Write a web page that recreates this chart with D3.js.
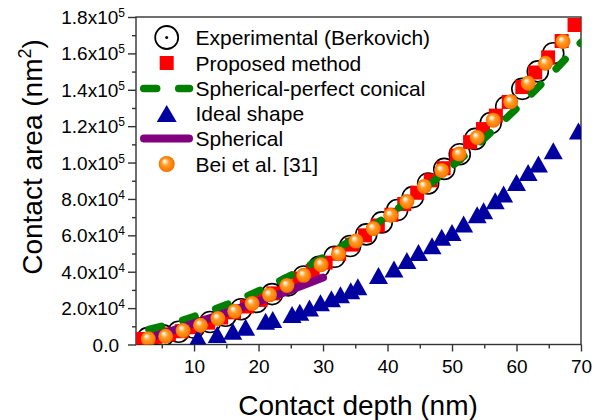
<!DOCTYPE html>
<html>
<head>
<meta charset="utf-8">
<script src="https://cdn.jsdelivr.net/npm/d3@7"></script>
<style>
  body { margin: 0; background: #fff; }
  svg text { font-family: "Liberation Sans", Arial, sans-serif; fill: #000; }
</style>
</head>
<body>
<svg id="chart" width="603" height="420"></svg>
<script>
// Experimental (Berkovich) - open circles
var expX = [2.8, 5.2, 7.6, 10.0, 12.5, 14.9, 17.3, 19.7, 22.1, 24.6, 27.0, 29.4, 31.8, 34.2,
  36.7, 39.1, 41.5, 43.9, 46.3, 48.8, 51.2, 53.6, 56.0, 58.4, 60.9, 63.3, 65.7];
var expY = [3500, 5000, 7000, 9300, 12400, 15800, 19400, 23400, 27700, 32500, 37400, 42700, 48200, 54100,
  60500, 67100, 73900, 81000, 88500, 96500, 104600, 113000, 121700, 130700, 140500, 150100, 160100];

// Proposed method - red squares
var propX = [2.0, 4.0, 6.1, 8.1, 10.1, 12.2, 14.2, 16.2, 18.2, 20.3, 22.3, 24.3, 26.4, 28.4, 30.4, 32.5, 34.5,
  36.5, 38.5, 40.6, 42.6, 44.6, 46.7, 48.7, 50.7, 52.8, 54.8, 56.8, 58.8, 60.9, 62.9, 64.9, 67.0, 69.0];
var propY = [3000, 4200, 5600, 7300, 9500, 12000, 14800, 17700, 20900, 24500, 28100, 31900, 36200, 40500, 45000, 49900, 54900,
  60000, 65400, 71300, 77200, 83400, 90200, 96900, 103800, 111200, 118400, 125800, 133300, 141500, 149500, 157800, 166800, 175600];

// Spherical-perfect conical - green dashed line
var conX = [3, 5, 10, 15, 20, 25, 30, 35, 40, 45, 50, 55, 60, 65, 70];
var conY = [8300, 10000, 15400, 21800, 29400, 38000, 47800, 58700, 70700, 83700, 98000, 113300, 129700, 147300, 166000];

// Ideal shape - blue triangles
var idealX = [10.6, 13.6, 16.0, 18.0, 21.1, 22.2, 25.2, 26.4, 27.9, 29.6, 31.3, 32.7, 34.3, 35.4, 38.6,
  41.0, 43.0, 44.8, 46.9, 48.4, 50.0, 51.8, 53.9, 54.9, 56.7, 58.0, 60.0, 61.8, 63.4, 65.7, 69.6];
var idealY = [3700, 5500, 7300, 9500, 12800, 13700, 16500, 17700, 20100, 22900, 25100, 27400, 29600, 31800, 37900,
  41500, 46100, 50600, 54300, 58900, 61600, 66200, 71300, 73500, 79000, 82700, 89100, 94600, 99200, 106500, 117400];

// Spherical - purple line
var sphX = [2.5, 5, 10, 15, 20, 25, 30];
var sphY = [3000, 5800, 11600, 17500, 23700, 30000, 36800];

// Bei et al. [31] - orange spheres
var beiX = [2.9, 5.6, 8.3, 11.0, 13.7, 16.3, 19.0, 21.7, 24.4, 27.0, 29.7, 32.4, 35.1, 37.8, 40.5,
  43.0, 45.7, 48.4, 51.1, 53.9, 56.4, 59.1, 61.8, 64.5, 67.2];
var beiY = [3100, 4550, 7700, 10600, 14300, 18300, 22500, 27300, 32400, 38000, 43900, 49900, 56900, 63700, 71000,
  78600, 86900, 95700, 104700, 113800, 123300, 133400, 143600, 154600, 166500];

var xMajor = [10, 20, 30, 40, 50, 60, 70];
var xMinor = [5, 15, 25, 35, 45, 55, 65];
var yMajor = [0, 20000, 40000, 60000, 80000, 100000, 120000, 140000, 160000, 180000];
var yMinor = [10000, 30000, 50000, 70000, 90000, 110000, 130000, 150000, 170000];

var legendLabels = ['Experimental (Berkovich)', 'Proposed method', 'Spherical-perfect conical',
  'Ideal shape', 'Spherical', 'Bei et al. [31]'];

var zip = function (xs, ys) { return xs.map(function (d, i) { return [d, ys[i]]; }); };

var svg = d3.select('#chart');
var plot = { left: 136, right: 581, top: 17, bottom: 344.5 };

var x = d3.scaleLinear().domain([1, 70]).range([plot.left, plot.right]);
var y = d3.scaleLinear().domain([0, 180000]).range([plot.bottom, plot.top]);

var defs = svg.append('defs');
defs.append('clipPath').attr('id', 'plot-clip').append('rect')
  .attr('x', plot.left).attr('y', plot.top)
  .attr('width', plot.right - plot.left).attr('height', plot.bottom - plot.top);

var grad = defs.append('radialGradient').attr('id', 'ball')
  .attr('cx', '50%').attr('cy', '50%').attr('r', '50%').attr('fx', '35%').attr('fy', '30%');
[[0, '#ffffff'], [0.18, '#ffe2b8'], [0.45, '#ff9c2a'], [0.85, '#ff7d00'], [1, '#e46a00']].forEach(function (s) {
  grad.append('stop').attr('offset', s[0]).attr('stop-color', s[1]);
});

var SQ = 14, TW = 19, TH = 17, CR = 10.5, BR = 7.5;
var triPath = function (w, h) {
  return 'M0,' + (-h / 2) + 'L' + (w / 2) + ',' + (h / 2) + 'L' + (-w / 2) + ',' + (h / 2) + 'Z';
};

// frame
svg.append('rect')
  .attr('x', plot.left).attr('y', plot.top)
  .attr('width', plot.right - plot.left).attr('height', plot.bottom - plot.top)
  .attr('fill', 'none').attr('stroke', '#333').attr('stroke-width', 1.4);

// axes
var xAxis = svg.append('g').attr('transform', 'translate(0,' + plot.bottom + ')')
  .call(d3.axisBottom(x).tickValues(xMajor).tickSize(7).tickPadding(8).tickFormat(d3.format('d')));
svg.append('g').attr('transform', 'translate(0,' + plot.bottom + ')')
  .call(d3.axisBottom(x).tickValues(xMinor).tickSize(4).tickFormat(''));

var yAxis = svg.append('g').attr('transform', 'translate(' + plot.left + ',0)')
  .call(d3.axisLeft(y).tickValues(yMajor).tickSize(8).tickPadding(3).tickFormat(''));
svg.append('g').attr('transform', 'translate(' + plot.left + ',0)')
  .call(d3.axisLeft(y).tickValues(yMinor).tickSize(4).tickFormat(''));

svg.selectAll('.domain').remove();
svg.selectAll('.tick line').attr('stroke', '#333').attr('stroke-width', 1.4);
xAxis.selectAll('text').style('font-size', '19px').attr('fill', '#000');

yAxis.selectAll('.tick').each(function (d) {
  var t = d3.select(this).append('text')
    .attr('x', -11).attr('dy', 6.5)
    .attr('text-anchor', 'end')
    .style('font-size', '19px');
  if (d === 0) {
    t.attr('x', -17).text('0.0');
    return;
  }
  var e = Math.floor(Math.log10(d));
  var m = d / Math.pow(10, e);
  t.append('tspan').text(m.toFixed(1) + 'x10');
  t.append('tspan').attr('dy', -7).style('font-size', '12px').text(e);
});

// axis titles
svg.append('text')
  .attr('x', (plot.left + plot.right) / 2 - 0.5).attr('y', 415)
  .attr('text-anchor', 'middle').style('font-size', '28px')
  .text('Contact depth (nm)');

var yt = svg.append('text')
  .attr('transform', 'translate(42,157) rotate(-90)')
  .attr('text-anchor', 'middle').style('font-size', '28px');
yt.append('tspan').text('Contact area (nm');
yt.append('tspan').attr('dy', -11).style('font-size', '18px').text('2');
yt.append('tspan').attr('dy', 11).text(')');

// data
var g = svg.append('g').attr('clip-path', 'url(#plot-clip)');
var line = d3.line().x(function (d) { return x(d[0]); }).y(function (d) { return y(d[1]); })
  .curve(d3.curveMonotoneX);

var circ = g.append('g').selectAll('g').data(zip(expX, expY)).enter().append('g')
  .attr('transform', function (d) { return 'translate(' + x(d[0]) + ',' + y(d[1]) + ')'; });
circ.append('circle').attr('r', CR).attr('fill', 'none').attr('stroke', '#000').attr('stroke-width', 1.6);
circ.append('circle').attr('r', 1.2).attr('fill', '#000');

g.append('g').selectAll('rect').data(zip(propX, propY)).enter().append('rect')
  .attr('x', function (d) { return x(d[0]) - SQ / 2; })
  .attr('y', function (d) { return y(d[1]) - SQ / 2; })
  .attr('width', SQ).attr('height', SQ).attr('fill', '#ff0000');

g.append('path').datum(zip(conX, conY)).attr('d', line)
  .attr('fill', 'none').attr('stroke', '#008000').attr('stroke-width', 7.5)
  .attr('stroke-linecap', 'round').attr('stroke-dasharray', '13,22');

g.append('g').selectAll('path').data(zip(idealX, idealY)).enter().append('path')
  .attr('d', triPath(TW, TH))
  .attr('transform', function (d) { return 'translate(' + x(d[0]) + ',' + y(d[1]) + ')'; })
  .attr('fill', '#0000a0');

g.append('path').datum(zip(sphX, sphY)).attr('d', line)
  .attr('fill', 'none').attr('stroke', '#800080').attr('stroke-width', 8)
  .attr('stroke-linecap', 'round');

g.append('g').selectAll('circle').data(zip(beiX, beiY)).enter().append('circle')
  .attr('cx', function (d) { return x(d[0]); })
  .attr('cy', function (d) { return y(d[1]); })
  .attr('r', BR).attr('fill', 'url(#ball)');

// legend
var lg = svg.append('g');
var rowY = [37.5, 63, 88.5, 113.5, 138.5, 164];
var symX = 166.7;

lg.append('circle').attr('cx', symX).attr('cy', rowY[0]).attr('r', 11.5)
  .attr('fill', 'none').attr('stroke', '#000').attr('stroke-width', 1.8);
lg.append('circle').attr('cx', symX).attr('cy', rowY[0]).attr('r', 1.5).attr('fill', '#000');
lg.append('rect').attr('x', symX - 7).attr('y', rowY[1] - 7).attr('width', 14).attr('height', 14).attr('fill', '#ff0000');
lg.append('line').attr('x1', 143.7).attr('x2', 189.5).attr('y1', rowY[2]).attr('y2', rowY[2])
  .attr('stroke', '#008000').attr('stroke-width', 7.5).attr('stroke-linecap', 'round')
  .attr('stroke-dasharray', '13,22');
lg.append('path').attr('d', triPath(20, 17))
  .attr('transform', 'translate(' + symX + ',' + rowY[3] + ')').attr('fill', '#0000a0');
lg.append('line').attr('x1', 144).attr('x2', 189).attr('y1', rowY[4]).attr('y2', rowY[4])
  .attr('stroke', '#800080').attr('stroke-width', 8).attr('stroke-linecap', 'round');
lg.append('circle').attr('cx', symX).attr('cy', rowY[5]).attr('r', 8).attr('fill', 'url(#ball)');

lg.selectAll('text.lbl').data(legendLabels).enter().append('text')
  .attr('class', 'lbl')
  .attr('x', 195.5)
  .attr('y', function (d, i) { return rowY[i] + 7.5; })
  .style('font-size', '21px')
  .text(function (d) { return d; });
</script>
</body>
</html>
